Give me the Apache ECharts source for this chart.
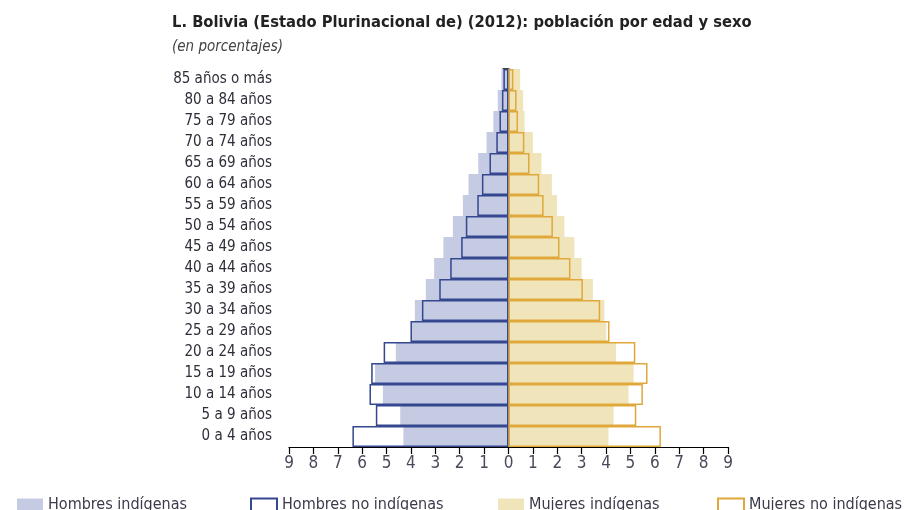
<!DOCTYPE html>
<html>
<head>
<meta charset="utf-8">
<script src="https://cdn.jsdelivr.net/npm/echarts@6/dist/echarts.min.js"></script>
<style>
  html, body { margin: 0; padding: 0; background: #fff; }
  #chart { width: 904px; height: 510px; }
</style>
</head>
<body>
<div id="chart"></div>
<script>
// Age groups, youngest first (category axis runs bottom to top)
const ageGroups = [
  '0 a 4 años', '5 a 9 años', '10 a 14 años', '15 a 19 años', '20 a 24 años',
  '25 a 29 años', '30 a 34 años', '35 a 39 años', '40 a 44 años', '45 a 49 años',
  '50 a 54 años', '55 a 59 años', '60 a 64 años', '65 a 69 años', '70 a 74 años',
  '75 a 79 años', '80 a 84 años', '85 años o más'
];

// Share of each population (%), same order as ageGroups
const hombresIndigenas   = [4.31, 4.44, 5.15, 5.47, 4.62, 4.00, 3.84, 3.39, 3.05, 2.67, 2.28, 1.87, 1.64, 1.24, 0.90, 0.62, 0.44, 0.29];
const hombresNoIndigenas = [6.40, 5.44, 5.70, 5.63, 5.12, 4.02, 3.55, 2.84, 2.39, 1.94, 1.75, 1.28, 1.09, 0.78, 0.50, 0.37, 0.27, 0.21];
const mujeresIndigenas   = [4.10, 4.31, 4.92, 5.13, 4.41, 4.01, 3.93, 3.46, 3.00, 2.70, 2.29, 1.99, 1.78, 1.35, 1.00, 0.66, 0.60, 0.48];
const mujeresNoIndigenas = [6.25, 5.24, 5.51, 5.70, 5.20, 4.14, 3.76, 3.05, 2.54, 2.09, 1.82, 1.44, 1.26, 0.86, 0.65, 0.39, 0.33, 0.20];

const xTicks = [-9, 9, 1]; // min, max, step

const FONT = "'Liberation Sans Narrow', 'DejaVu Sans Condensed', 'Liberation Sans', sans-serif";
const neg = arr => arr.map(v => -v);

const chart = echarts.init(document.getElementById('chart'), null, { renderer: 'canvas' });

function legendAt(left, name) {
  return {
    left: left, top: 492, itemWidth: 26, itemHeight: 13, itemGap: 10,
    icon: 'rect',
    data: [name], selectedMode: false,
    textStyle: { fontFamily: FONT, fontSize: 16, color: '#3a3a4a' }
  };
}

chart.setOption({
  animation: false,
  backgroundColor: '#ffffff',
  title: [
    {
      text: 'L. Bolivia (Estado Plurinacional de) (2012): población por edad y sexo',
      left: 167, top: 10,
      textStyle: { fontFamily: FONT, fontSize: 16.4, fontWeight: 'bold', color: '#222' }
    },
    {
      text: '(en porcentajes)',
      left: 167, top: 35,
      textStyle: { fontFamily: FONT, fontSize: 15, fontStyle: 'italic', fontWeight: 'normal', color: '#444' }
    }
  ],
  legend: [
    legendAt(12, 'Hombres indígenas'),
    legendAt(245, 'Hombres no indígenas'),
    legendAt(493, 'Mujeres indígenas'),
    legendAt(712, 'Mujeres no indígenas')
  ],
  grid: { left: 289, right: 176, top: 69, bottom: 63, containLabel: false },
  xAxis: {
    type: 'value', min: xTicks[0], max: xTicks[1], interval: xTicks[2],
    axisLine: { show: true, lineStyle: { color: '#000', width: 1.2 } },
    axisTick: { show: true, length: 7, lineStyle: { color: '#000', width: 1.2 } },
    splitLine: { show: false },
    axisLabel: {
      formatter: v => String(Math.abs(v)),
      fontFamily: FONT, fontSize: 17, color: '#4a4a5a', margin: 8
    }
  },
  yAxis: [
    {
      type: 'category', data: ageGroups, position: 'left',
      axisLine: { show: false, onZero: false },
      axisTick: { show: false },
      axisLabel: { fontFamily: FONT, fontSize: 15, color: '#2e2e3a', margin: 17 }
    },
    {
      type: 'category', data: ageGroups, position: 'left',
      axisLine: { show: true, onZero: true, lineStyle: { color: '#000', width: 1.5 } },
      axisTick: { show: true, length: 6, lineStyle: { color: '#000', width: 1.5 } },
      axisLabel: { show: false }
    }
  ],
  series: [
    {
      name: 'Hombres indígenas', type: 'bar', yAxisIndex: 0,
      data: neg(hombresIndigenas), barGap: '-100%', barCategoryGap: '0%', z: 2,
      itemStyle: { color: '#c6cbe4' }
    },
    {
      name: 'Hombres no indígenas', type: 'bar', yAxisIndex: 0,
      data: neg(hombresNoIndigenas), barGap: '-100%', barCategoryGap: '0%', z: 3,
      itemStyle: { color: 'rgba(0,0,0,0)', borderColor: '#34478f', borderWidth: 1.5 }
    },
    {
      name: 'Mujeres indígenas', type: 'bar', yAxisIndex: 0,
      data: mujeresIndigenas, barGap: '-100%', barCategoryGap: '0%', z: 2,
      itemStyle: { color: '#f0e5ba' }
    },
    {
      name: 'Mujeres no indígenas', type: 'bar', yAxisIndex: 0,
      data: mujeresNoIndigenas, barGap: '-100%', barCategoryGap: '0%', z: 3,
      itemStyle: { color: 'rgba(0,0,0,0)', borderColor: '#e0a73a', borderWidth: 1.5 }
    }
  ]
});
</script>
</body>
</html>
